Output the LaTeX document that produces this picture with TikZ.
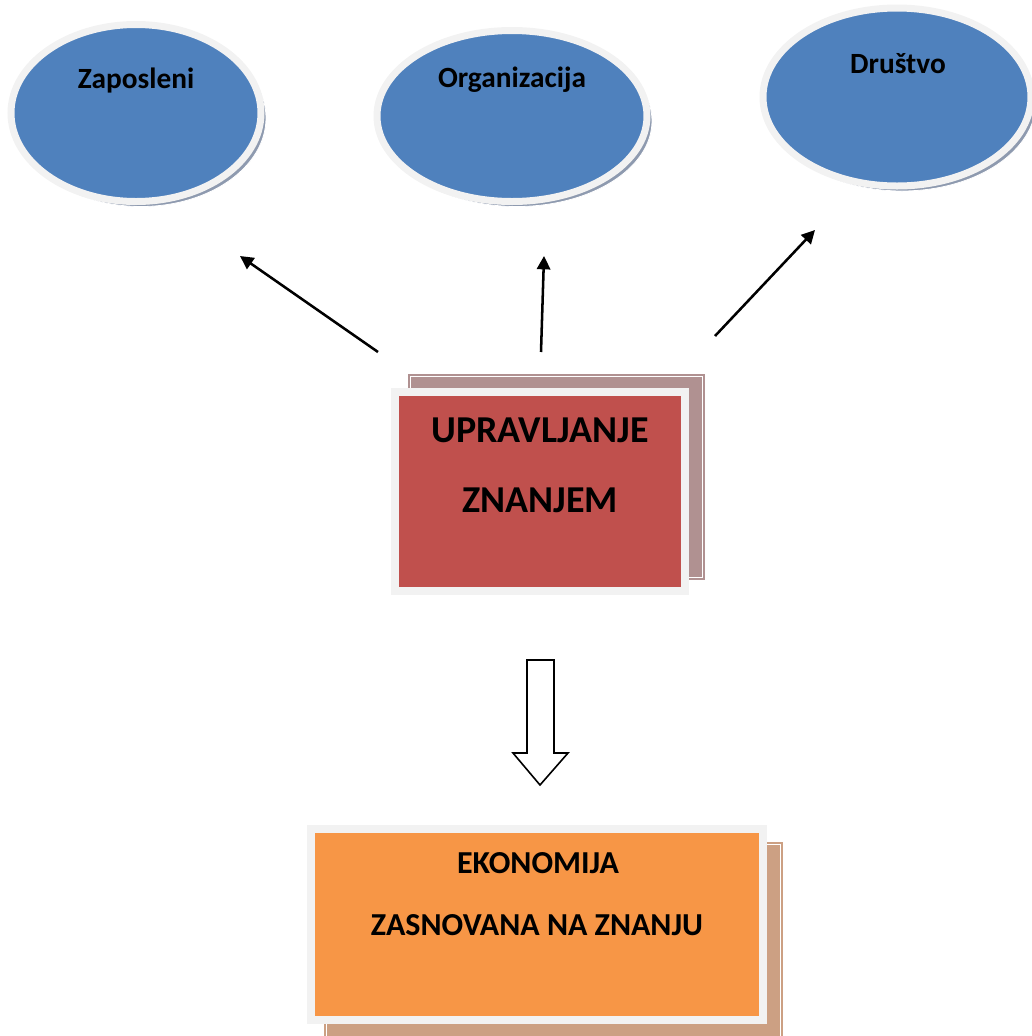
\documentclass[tikz,border=0pt]{standalone}
\usepackage{fontspec}
\setmainfont{Carlito}
\usetikzlibrary{shapes.geometric,arrows.meta}
\definecolor{eblue}{HTML}{4F81BD}
\definecolor{rim}{HTML}{F2F2F2}
\definecolor{eshadow}{HTML}{8E9AAF}
\definecolor{kred}{HTML}{C0504D}
\definecolor{kredback}{HTML}{B09191}
\definecolor{korange}{HTML}{F79646}
\definecolor{korangeback}{HTML}{CCA083}
\tikzset{
  oval/.style={ellipse, draw=rim, line width=5.25pt, fill=eblue, inner sep=0pt},
  ovalshadow/.style={ellipse, fill=eshadow, draw=white, line width=0.6pt, inner sep=0pt},
  card/.style={rectangle, draw=rim, line width=6pt, inner sep=0pt},
  backcard/.style={rectangle, draw=white, line width=0.6pt, inner sep=0pt},
  lbl/.style={font=\bfseries, text=black, anchor=base, inner sep=0pt},
  conn/.style={line width=1.9pt, -{Triangle[length=10pt,width=10pt]}},
}
\begin{document}
\begin{tikzpicture}[x=0.75pt,y=-0.75pt]
\useasboundingbox (0,0) rectangle (1032,1036);
% ellipses
\node[ovalshadow, minimum width=187.5pt, minimum height=132.75pt] (s1) at (141,118) {};
\node[oval, minimum width=187.5pt, minimum height=132.75pt] (e1) at (136,113) {};
\node[ovalshadow, minimum width=202.5pt, minimum height=128.25pt] (s2) at (517,121) {};
\node[oval, minimum width=202.5pt, minimum height=128.25pt] (e2) at (512,116) {};
\node[ovalshadow, minimum width=201pt, minimum height=133.5pt] (s3) at (902,102) {};
\node[oval, minimum width=201pt, minimum height=133.5pt] (e3) at (897,97) {};
\node[lbl, font=\fontsize{22}{26}\selectfont\bfseries] (t1) at (136,88) {Zaposleni};
\node[lbl, font=\fontsize{22}{26}\selectfont\bfseries] (t2) at (512,87) {Organizacija};
\node[lbl, font=\fontsize{22}{26}\selectfont\bfseries] (t3) at (898,73) {Društvo};
% red card
\node[backcard, fill=kredback, minimum width=223.5pt, minimum height=155.25pt] (rb) at (556,476.5) {};
\node[backcard, draw=white, fill=none, minimum width=219pt, minimum height=150.75pt] (rbi) at (556,476.5) {};
\node[card, fill=kred, minimum width=217.5pt, minimum height=149.25pt] (red) at (540,491.5) {};
\node[lbl, font=\fontsize{28.5}{34}\selectfont\bfseries] (r1) at (540,442) {UPRAVLJANJE};
\node[lbl, font=\fontsize{28.5}{34}\selectfont\bfseries] (r2) at (540,512) {ZNANJEM};
% arrows
\coordinate (a1s) at (378,352); \coordinate (a1e) at (240,256);
\coordinate (a2s) at (541,352); \coordinate (a2e) at (544,256);
\coordinate (a3s) at (715,336); \coordinate (a3e) at (815,230);
\draw[conn] (a1s) -- (a1e);
\draw[conn] (a2s) -- (a2e);
\draw[conn] (a3s) -- (a3e);
% hollow arrow
\draw[line width=1.2pt, fill=white, line join=miter]
  (527,660) -- (554,660) -- (554,753) -- (568,753) -- (540,785) -- (513,753) -- (527,753) -- cycle;
% orange card
\node[backcard, fill=korangeback, minimum width=345pt, minimum height=160pt] (ob) at (553,948) {};
\node[backcard, draw=white, fill=none, minimum width=340.5pt, minimum height=156pt] (obi) at (553,948) {};
\node[card, fill=korange, minimum width=339pt, minimum height=143.25pt] (ora) at (537,924.5) {};
\node[lbl, font=\fontsize{24}{29}\selectfont\bfseries] (o1) at (538,873) {EKONOMIJA};
\node[lbl, font=\fontsize{24}{29}\selectfont\bfseries] (o2) at (537,935) {ZASNOVANA NA ZNANJU};
\end{tikzpicture}
\end{document}
